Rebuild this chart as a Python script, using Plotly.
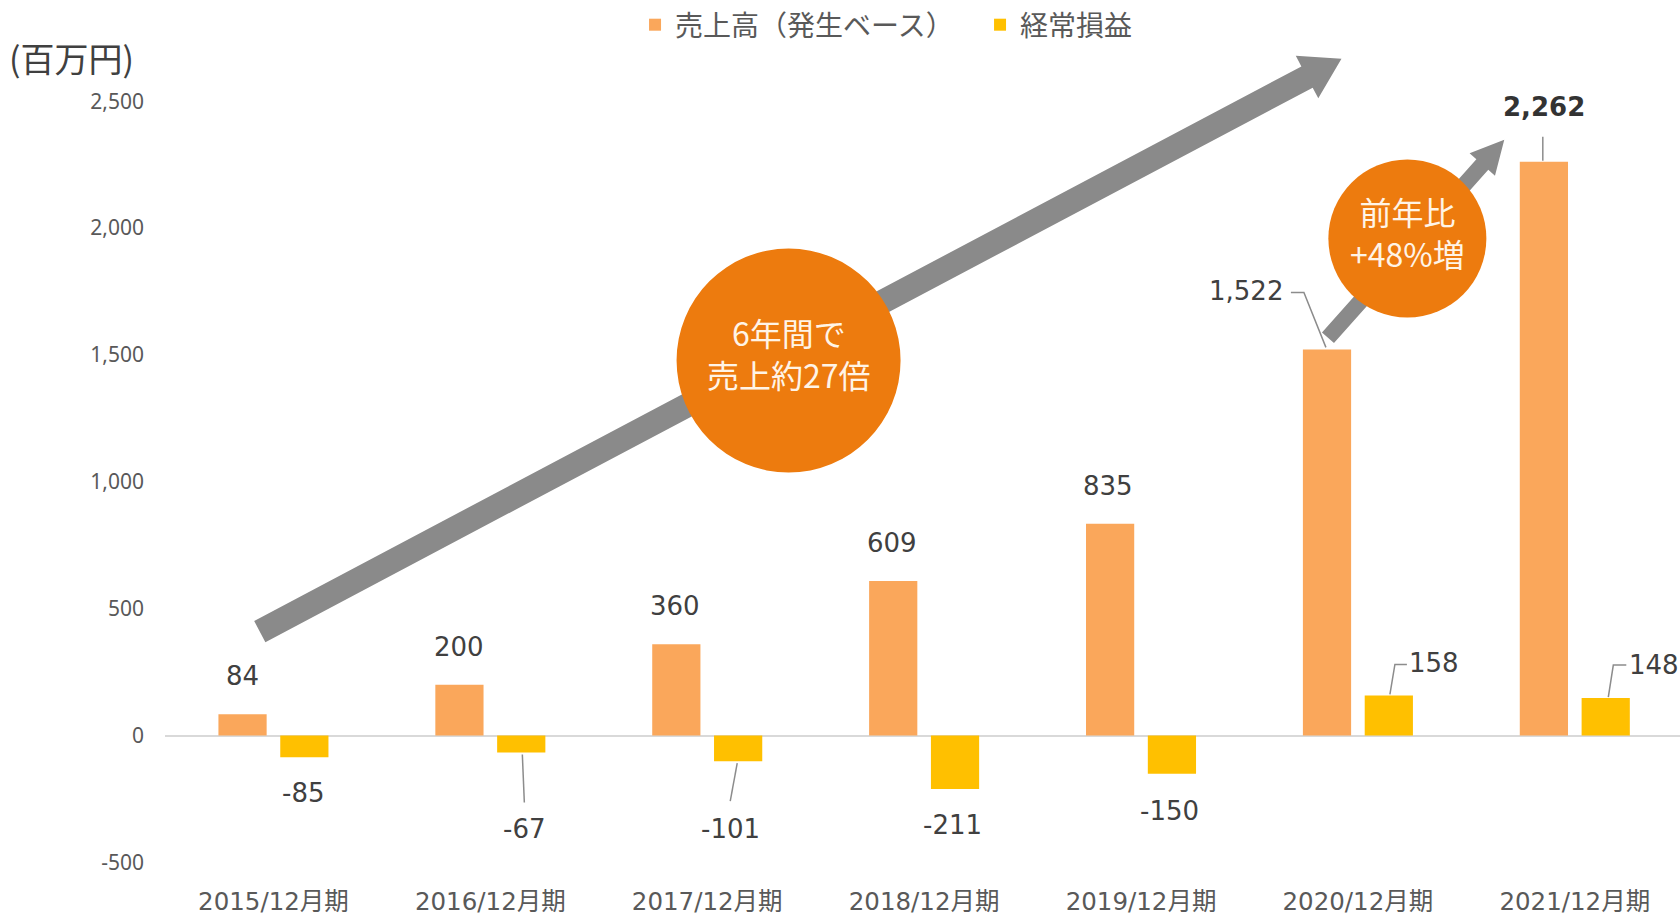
import math
import plotly.graph_objects as go

# ---- data ----
periods = ["2015/12月期", "2016/12月期", "2017/12月期", "2018/12月期",
           "2019/12月期", "2020/12月期", "2021/12月期"]
sales = [84, 200, 360, 609, 835, 1522, 2262]
ordinary_profit = [-85, -67, -101, -211, -150, 158, 148]
y_tick_values = [-500, 0, 500, 1000, 1500, 2000, 2500]
y_tick_labels = ["-500", "0", "500", "1,000", "1,500", "2,000", "2,500"]

sales_name = "売上高（発生ベース）"
profit_name = "経常損益"
unit_label = "(百万円)"
badge_total_text = "6年間で<br>売上約27倍"
badge_yoy_text = "前年比<br>+48%増"

# ---- styling ----
ORANGE = "#FAA75B"
YELLOW = "#FFC000"
BADGE = "#ED7B0E"
ARROW_GREY = "#8A8A8A"
LABEL_COLOR = "#404040"
TICK_COLOR = "#595959"
LEADER = "#8C8C8C"
JP_FONT = "Noto Sans CJK JP"
NUM_FONT = "DejaVu Sans"

BAR_OFFSET = 31  # px from the category centre to each bar centre

# label offsets (px) from the end of each bar
sales_label_shift = [(0, 38), (0, 38), (-1, 38), (-1, 38), (-2, 38), (-81, 58), (0, 55)]
profit_label_shift = [(-1.5, -36), (3, -76), (-8, -68), (-3, -36), (-3, -37), (45, 32), (48, 33)]
# leader lines, pixel paths relative to the end of the bar
sales_leaders = {5: [(-1, 2), (-23, 57), (-36, 57)], 6: [(-1, 1), (-1, 25)]}
profit_leaders = {1: [(1, -2), (3, -50)], 2: [(-1, -2), (-8, -40)],
                  5: [(1, 1), (6, 31), (18, 31)], 6: [(2.5, 1), (7.5, 33), (20.5, 33)]}


def pixel_path(points, dx=0):
    return "M " + " L ".join(f"{x + dx},{y}" for x, y in points)


def arrow_path(length, angle_deg, half_shaft, half_head, head_len):
    a = math.radians(angle_deg)
    ux, uy = math.cos(a), math.sin(a)
    px, py = -uy, ux
    base = length - head_len
    pts = [
        (px * half_shaft, py * half_shaft),
        (ux * base + px * half_shaft, uy * base + py * half_shaft),
        (ux * base + px * half_head, uy * base + py * half_head),
        (ux * length, uy * length),
        (ux * base - px * half_head, uy * base - py * half_head),
        (ux * base - px * half_shaft, uy * base - py * half_shaft),
        (-px * half_shaft, -py * half_shaft),
    ]
    return "M " + " L ".join(f"{x:.1f},{y:.1f}" for x, y in pts) + " Z"


fig = go.Figure()
fig.add_trace(go.Bar(x=periods, y=sales, name=sales_name, legendwidth=300,
                     marker=dict(color=ORANGE, line=dict(width=0)), hoverinfo="x+y"))
fig.add_trace(go.Bar(x=periods, y=ordinary_profit, name=profit_name,
                     marker=dict(color=YELLOW, line=dict(width=0)), hoverinfo="x+y"))

annotations = []
shapes = []

# data labels
for i, v in enumerate(sales):
    dx, dy = sales_label_shift[i]
    last = i == len(sales) - 1
    annotations.append(dict(
        x=periods[i], y=v, xref="x", yref="y",
        text=f"<b>{v:,}</b>" if last else f"{v:,}", showarrow=False,
        xshift=-BAR_OFFSET + dx, yshift=dy, yanchor="middle",
        font=dict(family=NUM_FONT, size=26, color="#333333" if last else LABEL_COLOR),
    ))
for i, v in enumerate(ordinary_profit):
    dx, dy = profit_label_shift[i]
    annotations.append(dict(
        x=periods[i], y=v, xref="x", yref="y", text=f"{v:,}", showarrow=False,
        xshift=BAR_OFFSET + dx, yshift=dy, yanchor="middle",
        font=dict(family=NUM_FONT, size=26, color=LABEL_COLOR),
    ))

for idx, pts in sales_leaders.items():
    shapes.append(dict(type="path", xref="x", yref="y", xsizemode="pixel", ysizemode="pixel",
                       xanchor=idx, yanchor=sales[idx], path=pixel_path(pts, -BAR_OFFSET),
                       line=dict(color=LEADER, width=1.5), layer="above"))
for idx, pts in profit_leaders.items():
    shapes.append(dict(type="path", xref="x", yref="y", xsizemode="pixel", ysizemode="pixel",
                       xanchor=idx, yanchor=ordinary_profit[idx], path=pixel_path(pts, BAR_OFFSET),
                       line=dict(color=LEADER, width=1.5), layer="above"))

# growth arrows (anchored at their tails)
shapes.append(dict(type="path", xref="x", yref="y", xsizemode="pixel", ysizemode="pixel",
                   xanchor=-0.063, yanchor=410, path=arrow_path(1224, 27.9, 12, 24, 39),
                   fillcolor=ARROW_GREY, line=dict(width=0), layer="above"))
shapes.append(dict(type="path", xref="x", yref="y", xsizemode="pixel", ysizemode="pixel",
                   xanchor=4.862, yanchor=1568, path=arrow_path(265, 48.3, 8, 17, 33),
                   fillcolor=ARROW_GREY, line=dict(width=0), layer="above"))

# badges
for cx, cy, r, txt, dy in [(2.375, 1478, 112, badge_total_text, 8),
                           (5.228, 1959, 79, badge_yoy_text, 7)]:
    shapes.append(dict(type="circle", xref="x", yref="y", xsizemode="pixel", ysizemode="pixel",
                       xanchor=cx, yanchor=cy, x0=-r, x1=r, y0=-r, y1=r,
                       fillcolor=BADGE, line=dict(width=0), layer="above"))
    annotations.append(dict(x=cx, y=cy, xref="x", yref="y", text=txt, showarrow=False,
                            yshift=dy, font=dict(family=JP_FONT, size=32, color="#FFF4E6")))

annotations.append(dict(x=-0.104, y=0.991, xref="paper", yref="paper", text=unit_label,
                        showarrow=False, xanchor="left", yanchor="middle",
                        font=dict(family=JP_FONT, size=34, color=LABEL_COLOR)))

fig.update_layout(
    width=1680, height=915,
    barmode="group", bargap=0.43, bargroupgap=0.22,
    paper_bgcolor="white", plot_bgcolor="white",
    margin=dict(l=165, r=0, t=45, b=31),
    showlegend=True,
    legend=dict(orientation="h", xref="container", yref="container", x=0.378, y=1.0,
                xanchor="left", yanchor="top",
                font=dict(family=JP_FONT, size=28, color=TICK_COLOR),
                bgcolor="rgba(0,0,0,0)"),
    annotations=annotations,
    shapes=shapes,
    xaxis=dict(range=[-0.5, 6.485], showgrid=False, showline=False, ticks="", zeroline=False,
               tickfont=dict(family=f"{NUM_FONT}, {JP_FONT}", size=24.5, color=TICK_COLOR)),
    yaxis=dict(range=[-585, 2702], tickvals=y_tick_values, ticktext=y_tick_labels,
               showgrid=False, showline=False, ticks="",
               zeroline=True, zerolinecolor="#D9D9D9", zerolinewidth=2,
               ticklabelstandoff=20,
               tickfont=dict(family="Noto Sans", size=21, color=TICK_COLOR)),
)

fig.write_html("out.html", config={"displayModeBar": False},
               post_script="document.body.style.margin='0';document.body.style.overflow='hidden';")
